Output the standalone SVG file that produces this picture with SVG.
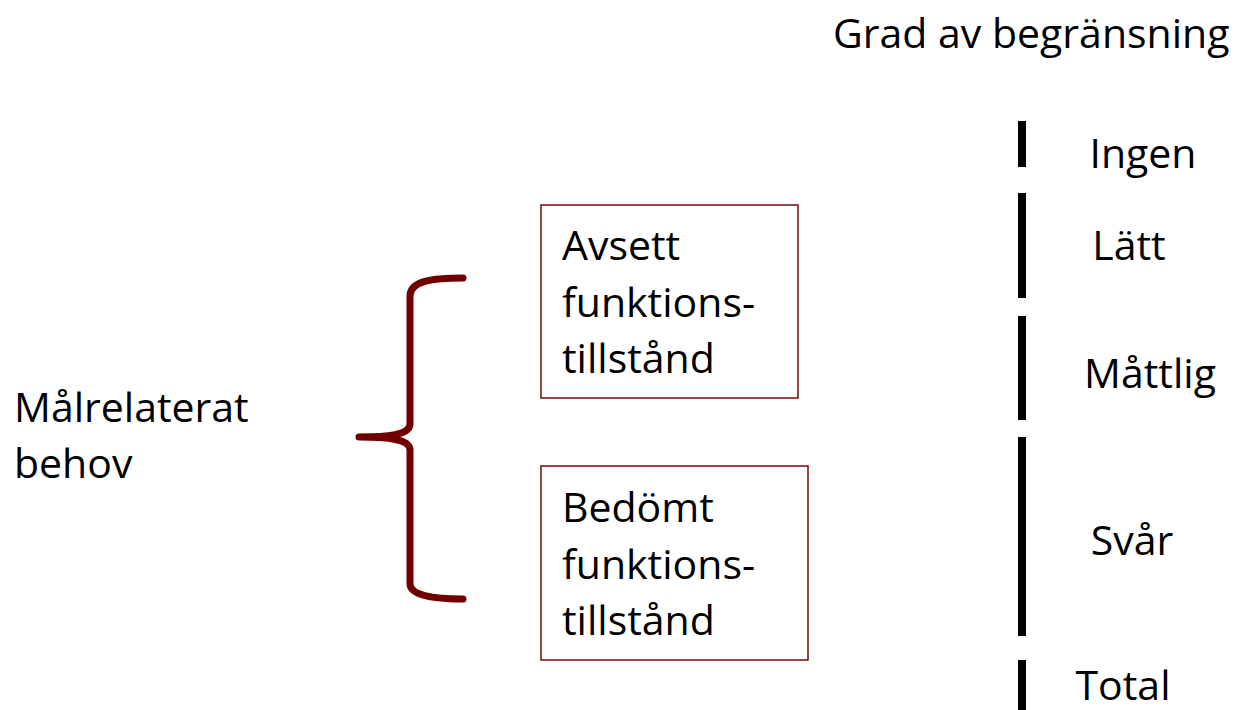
<svg xmlns="http://www.w3.org/2000/svg" width="1235" height="710" viewBox="0 0 1235 710">
<style>
text{font-family:"Open Sans","Liberation Sans",sans-serif;font-size:41px;fill:#000}
.box{fill:#fff;stroke:#7a1a1a;stroke-width:1.6}
.bar{stroke:#000;stroke-width:8}
.mid{text-anchor:middle}
</style>
<rect width="1235" height="710" fill="#fff"/>
<g id="title"><text x="833" y="48">Grad av begränsning</text></g>
<g id="label-malrelaterat"><text x="14" y="422">Målrelaterat</text><text x="14" y="478">behov</text></g>
<g id="connectors">
<path d="M463,278 C432,278 410,281 410,296 L410,424 C410,433 396,437 359,437 C396,437 410,441 410,450 L410,584 C410,595 432,599 463,599" fill="none" stroke="#700000" stroke-width="7" stroke-linecap="round" stroke-linejoin="round"/>
</g>
<g id="box-avsett">
<rect class="box" x="541" y="205" width="257" height="193"/>
<text x="562" y="260">Avsett</text><text x="562" y="317">funktions-</text><text x="562" y="373">tillstånd</text>
</g>
<g id="box-bedomt">
<rect class="box" x="541" y="466" width="267" height="194"/>
<text x="562" y="522">Bedömt</text><text x="562" y="579">funktions-</text><text x="562" y="635">tillstånd</text>
</g>
<g id="scale">
<line class="bar" x1="1022" y1="121" x2="1022" y2="167"/>
<line class="bar" x1="1022" y1="193" x2="1022" y2="298"/>
<line class="bar" x1="1022" y1="316" x2="1022" y2="420"/>
<line class="bar" x1="1022" y1="437" x2="1022" y2="636"/>
<line class="bar" x1="1022" y1="660" x2="1022" y2="710"/>
<text class="mid" x="1143" y="168">Ingen</text>
<text class="mid" x="1129" y="260">Lätt</text>
<text class="mid" x="1150" y="388">Måttlig</text>
<text class="mid" x="1132" y="555">Svår</text>
<text class="mid" x="1123" y="700">Total</text>
</g>
</svg>
